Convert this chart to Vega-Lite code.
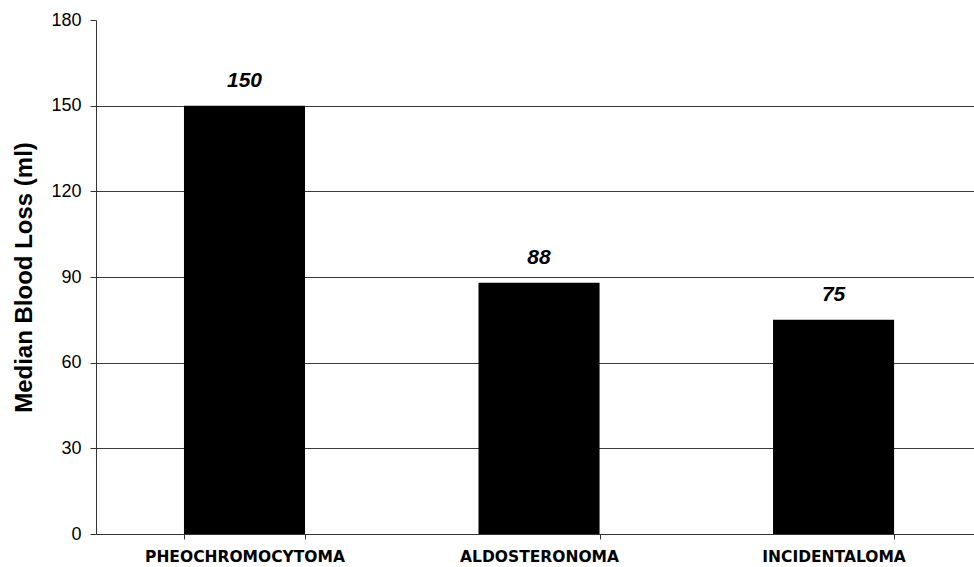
{
  "$schema": "https://vega.github.io/schema/vega-lite/v6.json",
  "width": 878,
  "height": 514,
  "autosize": {"type": "none"},
  "padding": {"left": 96, "top": 20, "right": 0, "bottom": 33},
  "background": "white",
  "config": {
    "view": {"stroke": null},
    "font": "Liberation Sans"
  },
  "data": {
    "values": [
      {"tumor": "PHEOCHROMOCYTOMA", "loss": 150},
      {"tumor": "ALDOSTERONOMA", "loss": 88},
      {"tumor": "INCIDENTALOMA", "loss": 75}
    ]
  },
  "encoding": {
    "x": {
      "field": "tumor",
      "type": "nominal",
      "sort": null,
      "scale": {"paddingInner": 0.589, "paddingOuter": 0.285, "align": 0.524},
      "axis": {
        "title": null,
        "labelAngle": 0,
        "labelFont": "DejaVu Sans",
        "labelFontSize": 15.5,
        "labelFontWeight": "bold",
        "labelColor": "black",
        "labelPadding": 10,
        "labelLimit": 0,
        "tickBand": "extent",
        "tickSize": 5,
        "tickColor": "#333",
        "domainColor": "#333",
        "grid": false
      }
    },
    "y": {
      "field": "loss",
      "type": "quantitative",
      "scale": {"domain": [0, 180], "nice": false},
      "axis": {
        "title": "Median Blood Loss (ml)",
        "titleFont": "Liberation Sans",
        "titleFontSize": 24,
        "titleFontWeight": "bold",
        "titleColor": "black",
        "titlePadding": 14,
        "values": [0, 30, 60, 90, 120, 150, 180],
        "labelFont": "Liberation Sans",
        "labelFontSize": 18,
        "labelColor": "black",
        "labelPadding": 9,
        "tickSize": 6,
        "tickColor": "#333",
        "domainColor": "#333",
        "grid": true,
        "gridColor": "#3a3a3a",
        "gridOpacity": {"condition": {"test": "datum.value === 180", "value": 0}, "value": 1},
        "gridWidth": 1
      }
    }
  },
  "layer": [
    {
      "mark": {"type": "bar", "color": "black"}
    },
    {
      "mark": {
        "type": "text",
        "baseline": "alphabetic",
        "dy": -19,
        "fontSize": 21,
        "fontWeight": "bold",
        "fontStyle": "italic",
        "color": "black"
      },
      "encoding": {"text": {"field": "loss", "type": "quantitative"}}
    }
  ]
}
